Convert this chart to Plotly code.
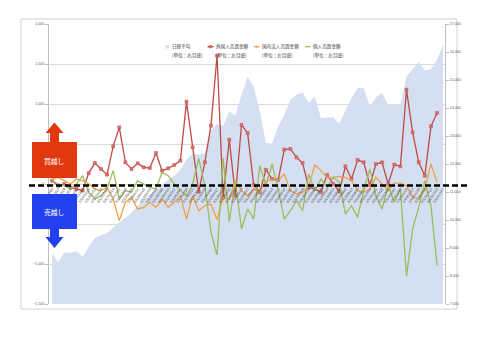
import plotly.graph_objects as go

# ---- data ----
dates = [
    "2012/10/05", "2012/10/12", "2012/10/19", "2012/10/26", "2012/11/02", "2012/11/09",
    "2012/11/16", "2012/11/23", "2012/11/30", "2012/12/07", "2012/12/14", "2012/12/21",
    "2012/12/28", "2013/01/04", "2013/01/11", "2013/01/18", "2013/01/25", "2013/02/01",
    "2013/02/08", "2013/02/15", "2013/02/22", "2013/03/01", "2013/03/08", "2013/03/15",
    "2013/03/22", "2013/03/29", "2013/04/05", "2013/04/12", "2013/04/19", "2013/04/26",
    "2013/05/03", "2013/05/10", "2013/05/17", "2013/05/24", "2013/05/31", "2013/06/07",
    "2013/06/14", "2013/06/21", "2013/06/28", "2013/07/05", "2013/07/12", "2013/07/19",
    "2013/07/26", "2013/08/02", "2013/08/09", "2013/08/16", "2013/08/23", "2013/08/30",
    "2013/09/06", "2013/09/13", "2013/09/20", "2013/09/27", "2013/10/04", "2013/10/11",
    "2013/10/18", "2013/10/25", "2013/11/01", "2013/11/08", "2013/11/15", "2013/11/22",
    "2013/11/29", "2013/12/06", "2013/12/13", "2013/12/20", "2013/12/27",
]

nikkei = [8821, 8480, 8850, 8830, 8880, 8700, 9036, 9357, 9452, 9536,
          9714, 9917, 10071, 10250, 10488, 10726, 10905, 11083, 11262, 11440,
          11583, 11798, 12155, 12369, 12333, 12393, 13202, 13440, 13369, 13881,
          13726, 14476, 15107, 14750, 13881, 12750, 12726, 13345, 13762, 14298,
          14476, 14560, 14179, 14417, 13643, 13643, 13667, 13440, 13881, 14357,
          14714, 14714, 14060, 14381, 14536, 14119, 14155, 14119, 15131, 15369,
          15631, 15333, 15393, 15726, 16262]

foreign = [42, -21, 0, -42, -62, -83, 137, 262, 188, 117,
           471, 708, 271, 188, 258, 208, 200, 388, 167, 196,
           238, 292, 1029, 458, -96, 271, 729, 1604, -167, 554,
           -146, 738, 638, -12, -104, 179, 62, 50, 429, 438,
           333, 262, -42, -62, -104, 112, 0, -96, 221, 62,
           300, 271, -12, 250, 271, 0, 242, 221, 1179, 646,
           271, 104, 721, 888]

domestic = [62, 83, 42, 0, 62, 42, 0, -62, -83, -42,
            -188, -458, -229, -167, -312, -292, -229, -292, -188, -292,
            -229, -146, -438, -146, -333, -271, -250, -446, -167, -188,
            42, -83, -146, -62, -104, 42, 54, 42, 125, -83,
            -125, -104, -21, 238, 167, 83, 83, 96, 83, 42,
            -83, -104, -62, 83, 0, -83, 12, 12, -21, -167,
            -179, -62, 250, 21]

individual = [42, 0, -21, -62, 0, 104, -104, -188, -146, -62,
              167, -188, -83, -104, 42, 0, -42, -62, 146, 104,
              0, -83, -146, 0, 321, -21, -604, -888, 321, -471,
              42, -562, -312, -438, 229, -21, 250, -62, -438, -333,
              -208, -333, 125, -83, 62, -42, 83, 21, -375, -271,
              -417, -83, 188, -146, -312, -21, -229, -62, -1154, -562,
              -292, 42, -271, -1021]

legend_names = ["日経平均", "外国人売買金額", "国内法人売買金額", "個人売買金額"]
legend_units = ["(単位：右目盛)", "(単位：左目盛)", "(単位：左目盛)", "(単位：左目盛)"]

left_ticks = [-1500, -1000, -500, 0, 500, 1000, 1500, 2000]
right_ticks = [7000, 8000, 9000, 10000, 11000, 12000, 13000, 14000, 15000, 16000, 17000]

# ---- styles ----
C_AREA = "#d5dff2"
C_RED = "#bf4b48"
C_ORANGE = "#f3a043"
C_GREEN = "#9dbd5b"

W, H = 480, 340
L, R, T, B = 49, 35, 24, 36
PW, PH = W - L - R, H - T - B


def px(x):
    return (x - L) / PW


def py(y):
    return (H - B - y) / PH


xs_area = list(range(len(nikkei)))
xs_line = list(range(len(foreign)))

fig = go.Figure()
fig.add_trace(go.Scatter(x=xs_area, y=nikkei, mode="lines", fill="tozeroy",
                         fillcolor=C_AREA, line=dict(width=0, color=C_AREA),
                         name=legend_names[0], xaxis="x", yaxis="y", showlegend=False))
fig.add_trace(go.Scatter(x=xs_line, y=foreign, mode="lines+markers",
                         line=dict(color=C_RED, width=1.3),
                         marker=dict(symbol="square", size=3, color="#dc7070",
                                     line=dict(color=C_RED, width=0.5)),
                         name=legend_names[1], xaxis="x", yaxis="y2", showlegend=False))
fig.add_trace(go.Scatter(x=xs_line, y=domestic, mode="lines",
                         line=dict(color=C_ORANGE, width=1.3),
                         name=legend_names[2], xaxis="x", yaxis="y2", showlegend=False))
fig.add_trace(go.Scatter(x=xs_line, y=individual, mode="lines",
                         line=dict(color=C_GREEN, width=1.3),
                         name=legend_names[3], xaxis="x", yaxis="y2", showlegend=False))

zero_pos = py(185.5)

fig.update_layout(
    width=W, height=H,
    margin=dict(l=L, r=R, t=T, b=B, pad=0),
    paper_bgcolor="white", plot_bgcolor="white",
    font=dict(family="Noto Sans CJK JP, Noto Sans, sans-serif", color="#404040"),
    xaxis=dict(range=[-0.5, 64.3], anchor="free", position=zero_pos,
               tickvals=xs_area, ticktext=dates, tickangle=-55,
               tickfont=dict(size=3.5, color="#404040", family="Liberation Sans"),
               showgrid=False, zeroline=False, showline=False, ticks=""),
    yaxis=dict(range=[7000, 17000], side="right", tickvals=right_ticks,
               tickformat=",d", showgrid=False, zeroline=False,
               showline=True, linecolor="#bfbfbf", linewidth=1,
               ticks="outside", ticklen=3, tickcolor="#bfbfbf",
               tickfont=dict(size=3.6, color="#595959", family="Liberation Sans")),
    yaxis2=dict(range=[-1500, 2000], overlaying="y", side="left", tickvals=left_ticks,
                tickformat=",d", showgrid=True, gridcolor="#d9d9d9", gridwidth=1,
                zeroline=False, showline=True, linecolor="#bfbfbf", linewidth=1,
                ticks="outside", ticklen=3, tickcolor="#bfbfbf",
                tickfont=dict(size=3.6, color="#595959", family="Liberation Sans")),
)

shapes = []
# outer frame
shapes.append(dict(type="rect", xref="paper", yref="paper", layer="below",
                   x0=px(21), x1=px(457), y0=py(309), y1=py(19),
                   line=dict(color="#d0d0d0", width=1), fillcolor="rgba(0,0,0,0)"))

RED_BOX = "#e2380f"
BLUE_BOX = "#2340ee"
# buy box + up arrow
shapes.append(dict(type="rect", xref="paper", yref="paper", layer="above",
                   x0=px(32), x1=px(77), y0=py(178), y1=py(142),
                   fillcolor=RED_BOX, line=dict(width=0)))
up = (f"M {px(45.5)},{py(133)} L {px(54.5)},{py(122.5)} L {px(63.5)},{py(133)} "
      f"L {px(59)},{py(133)} L {px(59)},{py(142.5)} L {px(50)},{py(142.5)} L {px(50)},{py(133)} Z")
shapes.append(dict(type="path", xref="paper", yref="paper", layer="above", path=up,
                   fillcolor=RED_BOX, line=dict(width=0)))
# sell box + down arrow
shapes.append(dict(type="rect", xref="paper", yref="paper", layer="above",
                   x0=px(32), x1=px(77), y0=py(229), y1=py(194),
                   fillcolor=BLUE_BOX, line=dict(width=0)))
dn = (f"M {px(45.5)},{py(237)} L {px(54.5)},{py(248)} L {px(63.5)},{py(237)} "
      f"L {px(59)},{py(237)} L {px(59)},{py(228.5)} L {px(50)},{py(228.5)} L {px(50)},{py(237)} Z")
shapes.append(dict(type="path", xref="paper", yref="paper", layer="above", path=dn,
                   fillcolor=BLUE_BOX, line=dict(width=0)))
# dashed zero line
shapes.append(dict(type="line", xref="paper", yref="paper", layer="above",
                   x0=px(29), x1=px(467), y0=py(185.5), y1=py(185.5),
                   line=dict(color="black", width=2.5, dash="6px,3px")))

# legend symbols
ly = 46.7
shapes.append(dict(type="rect", xref="paper", yref="paper",
                   x0=px(165.5), x1=px(169), y0=py(ly + 1.8), y1=py(ly - 1.8),
                   fillcolor=C_AREA, line=dict(width=0)))
for (x0, x1, c) in [(207.5, 213.5, C_RED), (254, 259.5, C_ORANGE), (305, 310.5, C_GREEN)]:
    shapes.append(dict(type="line", xref="paper", yref="paper",
                       x0=px(x0), x1=px(x1), y0=py(ly), y1=py(ly),
                       line=dict(color=c, width=1.3)))
shapes.append(dict(type="rect", xref="paper", yref="paper",
                   x0=px(209.3), x1=px(211.7), y0=py(ly + 1.2), y1=py(ly - 1.2),
                   fillcolor="#dc7070", line=dict(color=C_RED, width=0.5)))
shapes.append(dict(type="line", xref="paper", yref="paper",
                   x0=px(256.75), x1=px(256.75), y0=py(ly + 1.3), y1=py(ly - 1.3),
                   line=dict(color=C_ORANGE, width=0.8)))

annotations = []
leg_x = [169.8, 213.8, 260.2, 311]
for name, unit, x in zip(legend_names, legend_units, leg_x):
    annotations.append(dict(x=px(x), y=py(ly), xref="paper", yref="paper", text=name,
                            showarrow=False, xanchor="left", yanchor="middle",
                            font=dict(size=4.6, color="#404040")))
    annotations.append(dict(x=px(x), y=py(55), xref="paper", yref="paper", text=unit,
                            showarrow=False, xanchor="left", yanchor="middle",
                            font=dict(size=4.6, color="#404040")))

annotations.append(dict(x=px(54.5), y=py(161), xref="paper", yref="paper", text="買越し",
                        showarrow=False, xanchor="center", yanchor="middle",
                        font=dict(size=6.8, color="white")))
annotations.append(dict(x=px(54.5), y=py(212), xref="paper", yref="paper", text="売越し",
                        showarrow=False, xanchor="center", yanchor="middle",
                        font=dict(size=6.8, color="white")))

fig.update_layout(shapes=shapes, annotations=annotations)
fig.write_html("out.html")
